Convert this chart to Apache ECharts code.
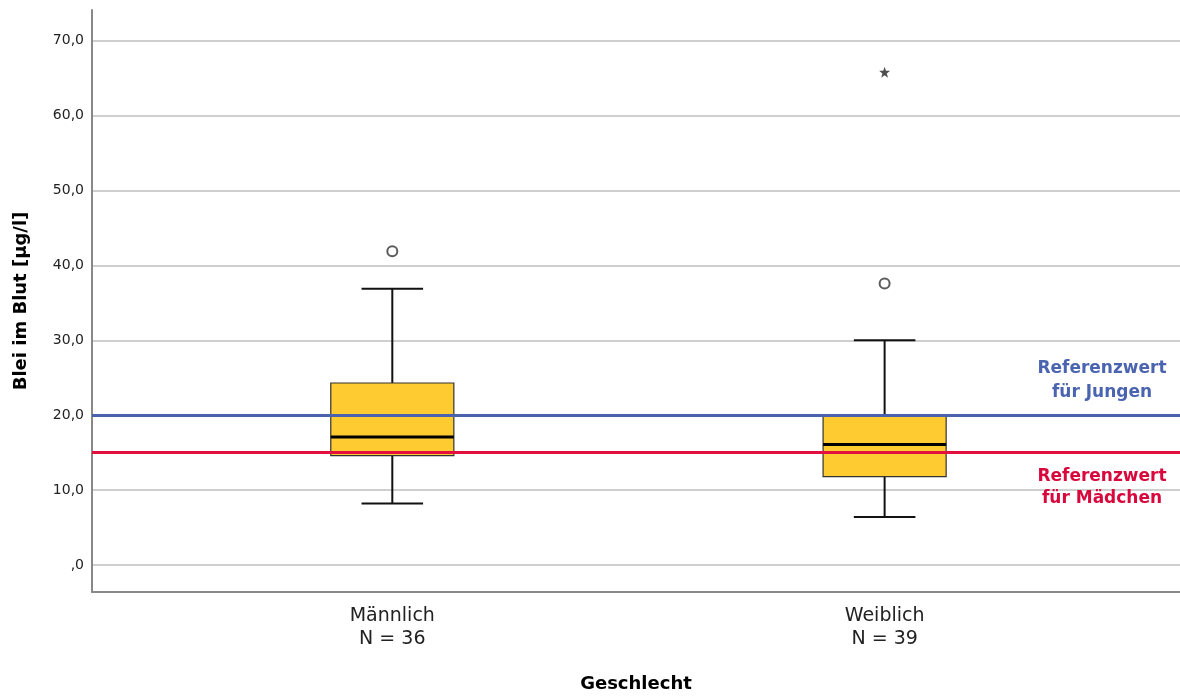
<!DOCTYPE html>
<html>
<head>
<meta charset="utf-8">
<script src="https://cdn.jsdelivr.net/npm/echarts@6/dist/echarts.min.js"></script>
<style>html,body{margin:0;padding:0;background:#fff;}#c{width:1180px;height:696px;}</style>
</head>
<body>
<div id="c"></div>
<script>
// ---- data ----
const categories = ['Männlich', 'Weiblich'];
const counts = [36, 39];
const categoryPos = [1, 2];
// [min whisker, Q1, median, Q3, max whisker]
const boxMale = [8.2, 14.6, 17.1, 24.3, 36.9];
const boxFemale = [6.4, 11.8, 16.1, 19.9, 30.0];
const outliersMale = [41.9];
const outliersFemale = [37.6];
const extremesFemale = [65.8];
const yTicks = [0, 10, 20, 30, 40, 50, 60, 70];
const refBoys = 20;
const refGirls = 15;
const refBoysLabel = 'Referenzwert\nfür Jungen';
const refGirlsLabel = 'Referenzwert\nfür Mädchen';

const boxData = [
  [categoryPos[0]].concat(boxMale),
  [categoryPos[1]].concat(boxFemale)
];
const outlierData = outliersMale.map(v => [categoryPos[0], v])
  .concat(outliersFemale.map(v => [categoryPos[1], v]));
const extremeData = extremesFemale.map(v => [categoryPos[1], v]);

const fmt = v => (v === 0 ? ',0' : v.toFixed(1).replace('.', ','));
const starPath = 'path://M0,-10 L2.35,-3.24 L9.51,-3.09 L3.8,1.24 L5.88,8.09 L0,4 L-5.88,8.09 L-3.8,1.24 L-9.51,-3.09 L-2.35,-3.24 Z';

const chart = echarts.init(document.getElementById('c'), null, {renderer: 'canvas'});
chart.setOption({
  animation: false,
  backgroundColor: '#ffffff',
  grid: {left: 92, right: 0, top: 10, bottom: 104, containLabel: false, outerBoundsMode: 'none'},
  xAxis: {
    type: 'value',
    min: 0.39, max: 2.6,
    name: 'Geschlecht',
    nameLocation: 'middle',
    nameGap: 83,
    nameTextStyle: {fontFamily: 'DejaVu Sans', fontWeight: 'bold', fontSize: 18, color: '#000'},
    axisLine: {show: true, onZero: false, lineStyle: {color: '#888', width: 2}},
    axisTick: {show: false},
    splitLine: {show: false},
    axisLabel: {
      customValues: categoryPos,
      margin: 13,
      fontFamily: 'DejaVu Sans', fontSize: 19, lineHeight: 23, color: '#222',
      formatter: v => {
        const i = categoryPos.indexOf(v);
        return i < 0 ? '' : categories[i] + '\nN = ' + counts[i];
      }
    }
  },
  yAxis: {
    type: 'value',
    min: -3.6, max: 74.1,
    name: 'Blei im Blut [µg/l]',
    nameLocation: 'middle',
    nameGap: 62,
    nameTextStyle: {fontFamily: 'DejaVu Sans', fontWeight: 'bold', fontSize: 18, color: '#000'},
    axisLine: {show: true, onZero: false, lineStyle: {color: '#888', width: 2}},
    axisTick: {show: false, customValues: yTicks},
    splitLine: {show: true, lineStyle: {color: '#cfcfcf', width: 2}},
    axisLabel: {
      customValues: yTicks,
      margin: 8,
      fontFamily: 'DejaVu Sans', fontSize: 14, color: '#222',
      formatter: fmt
    }
  },
  series: [
    {
      type: 'custom',
      z: 2,
      data: boxData,
      encode: {x: 0, y: [1, 2, 3, 4, 5]},
      renderItem: function (params, api) {
        const x = api.value(0);
        const unit = api.size([1, 0])[0];
        const halfBox = unit * 0.125;
        const halfCap = unit * 0.0625;
        const pMin = api.coord([x, api.value(1)]);
        const pQ1 = api.coord([x, api.value(2)]);
        const pMed = api.coord([x, api.value(3)]);
        const pQ3 = api.coord([x, api.value(4)]);
        const pMax = api.coord([x, api.value(5)]);
        const cx = pMed[0];
        const wStyle = {stroke: '#111', lineWidth: 2};
        return {
          type: 'group',
          children: [
            {type: 'line', shape: {x1: cx, y1: pMax[1], x2: cx, y2: pQ3[1]}, style: wStyle},
            {type: 'line', shape: {x1: cx, y1: pMin[1], x2: cx, y2: pQ1[1]}, style: wStyle},
            {type: 'line', shape: {x1: cx - halfCap, y1: pMax[1], x2: cx + halfCap, y2: pMax[1]}, style: wStyle},
            {type: 'line', shape: {x1: cx - halfCap, y1: pMin[1], x2: cx + halfCap, y2: pMin[1]}, style: wStyle},
            {type: 'rect', shape: {x: cx - halfBox, y: pQ3[1], width: halfBox * 2, height: pQ1[1] - pQ3[1]},
              style: {fill: '#fecb30', stroke: '#333', lineWidth: 1.2}},
            {type: 'line', shape: {x1: cx - halfBox, y1: pMed[1], x2: cx + halfBox, y2: pMed[1]},
              style: {stroke: '#000', lineWidth: 3}}
          ]
        };
      }
    },
    {
      type: 'scatter',
      z: 3,
      data: outlierData,
      symbol: 'emptyCircle',
      symbolSize: 10,
      itemStyle: {color: '#333', borderColor: '#333', borderWidth: 1.5}
    },
    {
      type: 'scatter',
      z: 3,
      data: extremeData,
      symbol: starPath,
      symbolSize: 11,
      itemStyle: {color: '#222'}
    },
    {
      type: 'line',
      z: 5,
      data: [],
      markLine: {
        silent: true,
        symbol: 'none',
        animation: false,
        data: [
          {
            yAxis: refBoys,
            lineStyle: {color: '#4a62ae', width: 3, type: 'solid'},
            label: {
              show: true,
              position: 'insideEndTop',
              distance: [8, 11],
              formatter: '{t|' + refBoysLabel.replace('\n', '}\n{t|') + '}',
              rich: {t: {width: 140, align: 'center', fontFamily: 'DejaVu Sans', fontWeight: 'bold', fontSize: 17, lineHeight: 24, color: '#4a64b0'}}
            }
          },
          {
            yAxis: refGirls,
            lineStyle: {color: '#e3103f', width: 3, type: 'solid'},
            label: {
              show: true,
              position: 'insideEndBottom',
              distance: [8, 13],
              formatter: '{t|' + refGirlsLabel.replace('\n', '}\n{t|') + '}',
              rich: {t: {width: 140, align: 'center', fontFamily: 'DejaVu Sans', fontWeight: 'bold', fontSize: 17, lineHeight: 22, color: '#d8083c'}}
            }
          }
        ]
      }
    }
  ]
});
</script>
</body>
</html>
